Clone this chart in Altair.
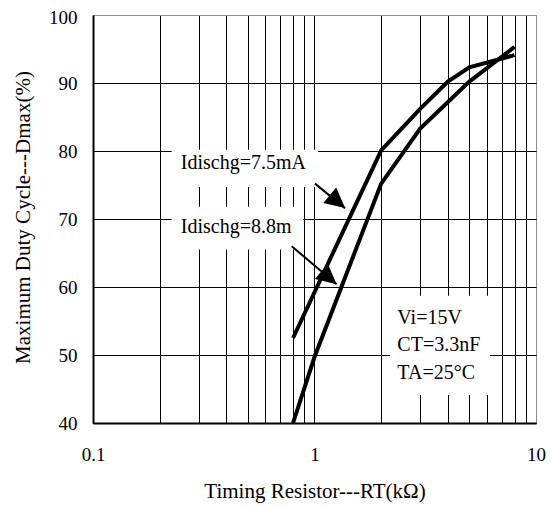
import altair as alt
import pandas as pd

# ---- data ----
rt_75 = [0.8, 2, 3, 4, 5, 8]
dmax_75 = [52.5, 80.1, 86.2, 90.2, 92.3, 94.1]
rt_88 = [0.8, 1, 2, 3, 5, 8]
dmax_88 = [40, 49.7, 75.2, 83.3, 90.2, 95.3]

x_grid = [0.1, 0.2, 0.3, 0.4, 0.5, 0.6, 0.7, 0.8, 0.9,
          1, 2, 3, 4, 5, 6, 7, 8, 9, 10]
x_labels = [0.1, 1, 10]
y_ticks = [40, 50, 60, 70, 80, 90, 100]

note_text = ["Idischg=7.5mA", "Idischg=8.8m", "Vi=15V", "CT=3.3nF", "TA=25°C"]
note_x = [0.249, 0.249, 2.366, 2.366, 2.366]
note_y = [77.3, 67.9, 54.5, 50.6, 46.5]

box_x1 = [0.2266, 0.2266, 2.193]
box_x2 = [1.037, 0.890, 6.20]
box_y1 = [74.7, 65.5, 44.1]
box_y2 = [80.2, 71.8, 58.7]

arrow_x1 = [1.005, 0.789]
arrow_y1 = [75.2, 66.0]
arrow_x2 = [1.374, 1.259]
arrow_y2 = [71.6, 60.4]

FONT = "Liberation Serif"

curves = pd.DataFrame({
    "x": rt_75 + rt_88,
    "y": dmax_75 + dmax_88,
    "s": ["7.5mA"] * len(rt_75) + ["8.8mA"] * len(rt_88),
})
notes = pd.DataFrame({"x": note_x, "y": note_y, "t": note_text})
boxes = pd.DataFrame({"x": box_x1, "x2": box_x2, "y": box_y1, "y2": box_y2})
arrows = pd.DataFrame({"x": arrow_x1, "y": arrow_y1, "x2": arrow_x2, "y2": arrow_y2})
heads = pd.DataFrame({"x": arrow_x2, "y": arrow_y2})

PLOT_W, PLOT_H = 443, 408

xscale = alt.Scale(type="log", domain=[0.1, 10], nice=False)
yscale = alt.Scale(domain=[40, 100], nice=False, zero=False)

label_list = "[" + ",".join(str(v) for v in x_labels) + "]"

xaxis = alt.Axis(
    values=x_grid,
    labelExpr=f"indexof({label_list}, datum.value) >= 0 ? format(datum.value, '~g') : ''",
    grid=True,
    gridColor={"condition": {"test": "datum.value == 10", "value": "#8c8c8c"}, "value": "black"},
    gridWidth=1,
    ticks=False,
    domainColor="black",
    domainWidth=2,
    labelFont=FONT,
    labelFontSize=19,
    labelColor="black",
    labelFlush=False,
    labelPadding=22,
    titleFont=FONT,
    titleFontSize=21,
    titleFontWeight="normal",
    titleColor="black",
    titleX=PLOT_W / 2,
    titleY=68,
    titleAlign="center",
    titleBaseline="middle",
)
yaxis = alt.Axis(
    values=y_ticks,
    grid=True,
    gridColor={"condition": {"test": "datum.value == 100", "value": "#8c8c8c"}, "value": "black"},
    gridWidth=1,
    ticks=False,
    domainColor="black",
    domainWidth=2,
    labelFont=FONT,
    labelFontSize=19,
    labelColor="black",
    labelPadding=16,
    labelOffset={"condition": {"test": "datum.value == 100", "value": 2}, "value": 0},
    titleFont=FONT,
    titleFontSize=21,
    titleFontWeight="normal",
    titleColor="black",
    titleAngle=270,
    titleX=-70,
    titleY=PLOT_H / 2 - 2,
    titleAlign="center",
    titleBaseline="middle",
)

X = alt.X("x:Q", scale=xscale, axis=xaxis, title="Timing Resistor---RT(kΩ)")
Y = alt.Y("y:Q", scale=yscale, axis=yaxis, title="Maximum Duty Cycle---Dmax(%)")

line_layer = alt.Chart(curves).mark_line(color="black", strokeWidth=4).encode(
    x=X, y=Y, detail="s:N"
)
box_layer = alt.Chart(boxes).mark_rect(color="white", opacity=1).encode(
    x=X, x2="x2:Q", y=Y, y2="y2:Q"
)
shaft_layer = alt.Chart(arrows).mark_rule(color="black", strokeWidth=2).encode(
    x=X, x2="x2:Q", y=Y, y2="y2:Q"
)
head_layer = alt.Chart(heads).mark_point(
    shape="M0,0L-2,-1L-2,1Z", filled=True, size=400, angle=40,
    color="black", opacity=1,
).encode(x=X, y=Y)
text_layer = alt.Chart(notes).mark_text(
    align="left", baseline="alphabetic", font=FONT, fontSize=20, color="black"
).encode(x=X, y=Y, text="t:N")

chart = alt.layer(
    box_layer, line_layer, shaft_layer, head_layer, text_layer
).properties(
    width=PLOT_W,
    height=PLOT_H,
    autosize=alt.AutoSizeParams(type="none"),
    padding={"left": 85, "top": 7, "right": 10, "bottom": 80},
).configure_view(
    stroke="#8c8c8c", strokeWidth=1
)

chart.save("out.html", embed_options={"renderer": "svg", "actions": False})
